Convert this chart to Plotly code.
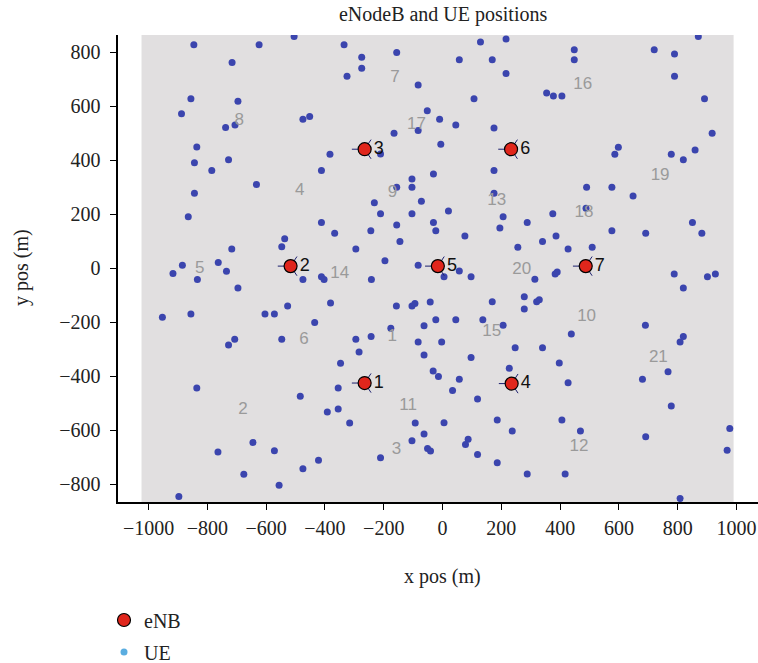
import plotly.graph_objects as go

# eNodeB sites (m)
enb_id = ["1", "2", "3", "4", "5", "6", "7"]
enb_x = [-265, -517, -265, 235, -16, 233, 487]
enb_y = [-425, 8, 441, -427, 8, 441, 8]

# cell (sector) index labels (m)
cell_id = [str(i) for i in range(1, 22)]
cell_x = [-171, -679, -157, -486, -826, -471, -162, -692, -170, 490,
          -117, 464, 184, -350, 167, 477, -89, 481, 740, 269, 734]
cell_y = [-253, -525, -673, 286, 0, -266, 704, 545, 278, -179,
          -509, -661, 249, -19, -235, 679, 531, 204, 342, -6, -330]

# UE drop positions (m)
ue_x = [
    -846, -624, -505, -335, -275, -156, -716, -275, -325, -83,
    -856, -696, -888, -475, -452, -738, -706, -52, -10, -165,
    -83, -836, -6, -844, -728, -785, -383, -211, -412, -31,
    -104, -156, -104, -633, -844, -232, -72, 20, -865, -412,
    -367, -211, -104, -244, -156, -31, -23, -537, -547, -145,
    -717, -295,
    129, 216, 57, 169, 216, 448, 448, 720, 789, 870,
    789, 107, 354, 377, 406, 891, 45, 175, 917, 598,
    586, 778, 819, 859, 175, 175, 490, 576, 648, 206,
    488, 375, 288, 195, 76, 340, 386, 576, 691, 850,
    882, 256, 427, 509,
    -885, -917, -834, -763, -735, -696, -475, -412, -403, -196,
    -242, -83, -381, -953, -856, -604, -572, -527, -435, -157,
    -104, -94, -42, -23, -63, -176, -707, -728, -547, -295,
    -243, -284, -83, -63, -347, -836, -355, -484, -32, -14,
    -392, -355, -316, -93, -63, -104, -51, -41, -645, -764,
    -572, -422, -475, -211, -676, -556, -897, 5,
    57, 5, 97, 314, 390, 383, 788, 901, 928, 819,
    169, 278, 278, 320, 329, 45, 137, 206, -3, 438,
    690, 819, 808, 247, 340, 97, 227, 397, 57, 34,
    119, 427, 680, 767, 778, 186, 237, 406, 469, 87,
    78, 119, 186, 288, 417, 691, 977, 968, 808,
]
ue_y = [
    828, 828, 858, 828, 782, 799, 762, 741, 711, 679,
    628, 619, 572, 552, 562, 521, 531, 583, 552, 500,
    510, 449, 459, 391, 402, 362, 422, 423, 362, 349,
    331, 300, 300, 310, 278, 243, 248, 212, 191, 170,
    130, 202, 202, 139, 160, 170, 139, 109, 80, 99,
    71, 71,
    838, 849, 772, 772, 721, 809, 772, 809, 794, 858,
    711, 628, 649, 638, 638, 628, 531, 520, 500, 448,
    422, 422, 402, 438, 362, 278, 300, 300, 268, 191,
    222, 202, 170, 149, 120, 99, 120, 139, 130, 170,
    130, 78, 71, 78,
    11, -19, -42, 21, -11, -73, -42, -31, -42, 28,
    -42, 11, -129, -181, -169, -169, -169, -140, -201, -140,
    -140, -130, -125, -191, -213, -222, -263, -284, -263, -263,
    -253, -310, -273, -321, -352, -443, -443, -474, -380, -401,
    -532, -521, -573, -573, -614, -639, -667, -677, -645, -680,
    -676, -711, -742, -702, -763, -804, -845, -572,
    -10, -31, -31, -41, -14, -21, -21, -31, -21, -73,
    -124, -105, -151, -124, -117, -191, -191, -211, -273, -243,
    -211, -253, -273, -294, -294, -330, -370, -351, -411, -453,
    -484, -424, -411, -383, -510, -562, -603, -562, -603, -633,
    -653, -690, -720, -762, -762, -624, -593, -674, -853,
]

x_ticks = [-1000, -800, -600, -400, -200, 0, 200, 400, 600, 800, 1000]
y_ticks = [-800, -600, -400, -200, 0, 200, 400, 600, 800]

SERIF = "'Liberation Serif', 'Times New Roman', 'DejaVu Serif', serif"
SANS = "'Liberation Sans', Arial, sans-serif"
TXT = "#222222"

fig = go.Figure()

# UEs
fig.add_trace(go.Scatter(
    x=ue_x, y=ue_y, mode="markers", showlegend=False, hoverinfo="x+y",
    marker=dict(color="#3b45ae", size=7, line=dict(width=0)),
))

# cell index labels
fig.add_trace(go.Scatter(
    x=cell_x, y=cell_y, mode="text", text=cell_id, showlegend=False,
    textfont=dict(family=SANS, size=17, color="#9a9a9a"), hoverinfo="skip",
))

# antenna boresight strokes under each site
fig.add_trace(go.Scatter(
    x=enb_x, y=enb_y, mode="markers", showlegend=False, hoverinfo="skip",
    marker=dict(symbol="y-left", size=16, color="#1c1f6e",
                line=dict(width=1, color="#1c1f6e")),
))

# eNodeBs
fig.add_trace(go.Scatter(
    x=enb_x, y=enb_y, mode="markers+text", text=enb_id,
    textposition="middle right", name="eNB", legend="legend",
    textfont=dict(family=SANS, size=18, color="#111111"),
    marker=dict(color="#e0261c", size=13, line=dict(width=1.2, color="#000000")),
))

# legend entry for the UE class
fig.add_trace(go.Scatter(
    x=[None], y=[None], mode="markers", name="UE", legend="legend2",
    marker=dict(color="#5aade0", size=7),
))

axis_common = dict(
    showgrid=False, zeroline=False, showline=True, linecolor="#000000",
    linewidth=1.5, ticks="outside", ticklen=6, tickwidth=1.2,
    tickcolor="#000000", tickfont=dict(family=SERIF, size=20, color=TXT),
    mirror=False, automargin=False,
)

fig.update_layout(
    width=758, height=663,
    margin=dict(l=118, r=0, t=35, b=161, autoexpand=False),
    paper_bgcolor="#ffffff", plot_bgcolor="#ffffff",
    font=dict(family=SERIF, size=20, color=TXT),
    title=dict(text="eNodeB and UE positions", x=0.508, xref="paper",
               y=1 - 14 / 663, yref="container", xanchor="center", yanchor="middle",
               font=dict(family=SERIF, size=20, color=TXT)),
    xaxis=dict(range=[-1104, 1073], tickvals=x_ticks,
               ticktext=[str(v).replace("-", "\u2212") for v in x_ticks],
               ticklabelstandoff=1, **axis_common),
    yaxis=dict(range=[-865.6, 864], tickvals=y_ticks,
               ticktext=[str(v).replace("-", "\u2212") + "\u2009\u200a" for v in y_ticks],
               **axis_common),
    shapes=[dict(type="rect", xref="x", yref="paper", x0=-1024, x1=990,
                 y0=0, y1=1, fillcolor="#e1dfe0", line=dict(width=0),
                 layer="below")],
    annotations=[
        dict(text="x pos (m)", xref="paper", yref="paper", x=(442 - 118) / 640,
             y=(502 - 576) / 467, xanchor="center", yanchor="middle",
             showarrow=False, font=dict(family=SERIF, size=20, color=TXT)),
        dict(text="y pos (m)", xref="paper", yref="paper", x=(21 - 118) / 640,
             y=(502 - 268) / 467, xanchor="center", yanchor="middle",
             textangle=-90, showarrow=False,
             font=dict(family=SERIF, size=20, color=TXT)),
    ],
    legend=dict(x=(104 - 118) / 640, y=(502 - 620) / 467, xanchor="left",
                yanchor="middle", bgcolor="rgba(0,0,0,0)",
                font=dict(family=SERIF, size=20, color=TXT)),
    legend2=dict(x=(104 - 118) / 640, y=(502 - 652) / 467, xanchor="left",
                 yanchor="middle", bgcolor="rgba(0,0,0,0)",
                 font=dict(family=SERIF, size=20, color=TXT)),
)

fig.write_html("out.html")
